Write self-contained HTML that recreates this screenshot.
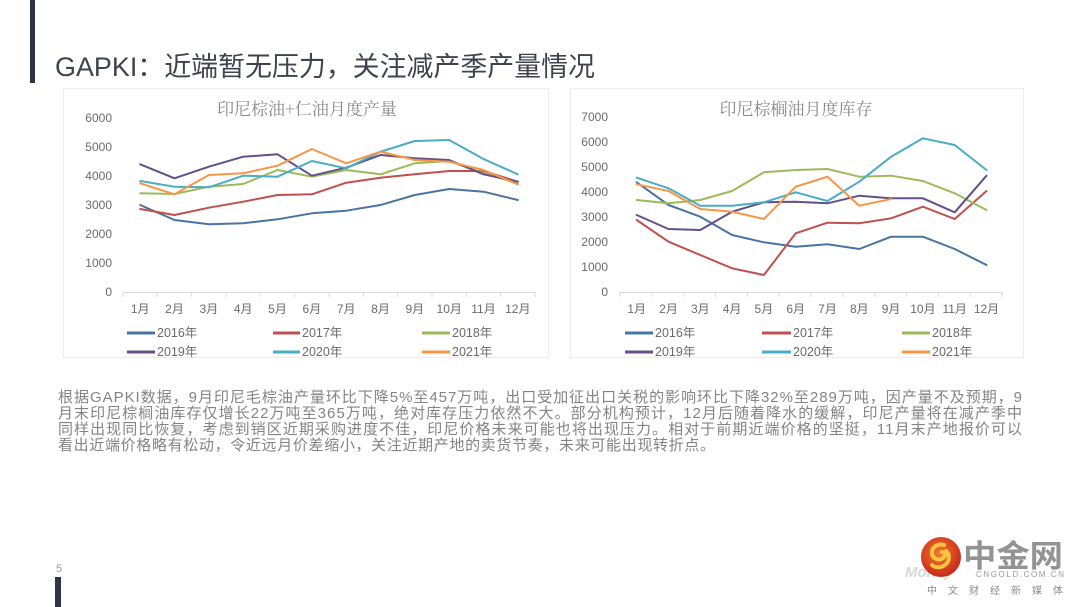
<!DOCTYPE html>
<html><head><meta charset="utf-8"><style>
html,body{margin:0;padding:0;background:#fff;}
svg{display:block;}
text{font-family:"Liberation Sans","Noto Sans CJK SC",sans-serif;}
.ax{font-size:12px;fill:#6b6b6b;}
.ttl{font-family:"Noto Serif CJK SC","Liberation Serif",serif;font-size:17px;fill:#8a8a8a;}
.lg{font-size:12.5px;fill:#6b6b6b;}
.s{fill:none;stroke-width:2;stroke-linejoin:round;stroke-linecap:round;}
.para{font-size:15px;fill:#848484;}
</style></head><body>
<svg width="1080" height="607" viewBox="0 0 1080 607" xmlns="http://www.w3.org/2000/svg">
<defs>
<radialGradient id="rg" cx="45%" cy="40%" r="60%">
<stop offset="0" stop-color="#f07a2a"/><stop offset="1" stop-color="#c9281c"/>
</radialGradient>
</defs>
<rect x="30" y="0" width="5" height="83" fill="#2f3447"/>
<rect x="55" y="577" width="6" height="30" fill="#2f3447"/>
<text x="56" y="572" font-size="11" fill="#9a9a9a">5</text>

<text x="55" y="76" font-size="27" fill="#3f4350" textLength="540" lengthAdjust="spacingAndGlyphs">GAPKI：近端暂无压力，关注减产季产量情况</text>

<rect x="63.5" y="88.5" width="485" height="269" fill="#fff" stroke="#ececec"/>
<rect x="570.5" y="88.5" width="453" height="269" fill="#fff" stroke="#ececec"/>

<text class="ttl" x="307" y="115" text-anchor="middle">印尼棕油+仁油月度产量</text>
<g class="ax" text-anchor="end">
<text x="112" y="122">6000</text>
<text x="112" y="151">5000</text>
<text x="112" y="180">4000</text>
<text x="112" y="209">3000</text>
<text x="112" y="238">2000</text>
<text x="112" y="267">1000</text>
<text x="112" y="296">0</text>
</g>
<g stroke="#d9d9d9" stroke-width="1">
<line x1="123" y1="292.5" x2="535" y2="292.5"/>
<path d="M123 292v5M157.3 292v5M191.7 292v5M226 292v5M260.3 292v5M294.7 292v5M329 292v5M363.3 292v5M397.7 292v5M432 292v5M466.3 292v5M500.7 292v5M535 292v5"/>
</g>
<g class="ax" text-anchor="middle">
<text x="140.2" y="313">1月</text><text x="174.5" y="313">2月</text><text x="208.9" y="313">3月</text>
<text x="243.2" y="313">4月</text><text x="277.5" y="313">5月</text><text x="311.9" y="313">6月</text>
<text x="346.2" y="313">7月</text><text x="380.5" y="313">8月</text><text x="414.8" y="313">9月</text>
<text x="449.2" y="313">10月</text><text x="483.5" y="313">11月</text><text x="517.8" y="313">12月</text>
</g>
<polyline class="s" stroke="#4a74a0" points="140.2,205 174.5,220 208.9,224.3 243.2,223.3 277.5,219.3 311.9,213.3 346.2,210.7 380.5,205 414.8,195 449.2,189 483.5,191.7 517.8,200"/>
<polyline class="s" stroke="#c0504d" points="140.2,209 174.5,215 208.9,207.7 243.2,201.7 277.5,195 311.9,194.3 346.2,182.7 380.5,177.7 414.8,174.3 449.2,171 483.5,171 517.8,181.7"/>
<polyline class="s" stroke="#9bbb59" points="140.2,193.3 174.5,194 208.9,186.7 243.2,184 277.5,170 311.9,176.7 346.2,170 380.5,174.3 414.8,163.3 449.2,161 483.5,173.3 517.8,183.3"/>
<polyline class="s" stroke="#63508a" points="140.2,164.3 174.5,178.3 208.9,166.7 243.2,156.7 277.5,154.3 311.9,175.7 346.2,167.7 380.5,155 414.8,158.3 449.2,160 483.5,174.3 517.8,181.7"/>
<polyline class="s" stroke="#4bacc6" points="140.2,181 174.5,186.7 208.9,187.3 243.2,175.7 277.5,176.7 311.9,161 346.2,168.3 380.5,151.7 414.8,141 449.2,140 483.5,159 517.8,174.3"/>
<polyline class="s" stroke="#f79646" points="140.2,183.3 174.5,194.3 208.9,175 243.2,173.3 277.5,165.7 311.9,149 346.2,163.3 380.5,151.7 414.8,160 449.2,161.7 483.5,170 517.8,184.3"/>
<g stroke-width="3">
<line x1="127" y1="333" x2="155" y2="333" stroke="#4a74a0"/>
<line x1="273" y1="333" x2="300" y2="333" stroke="#c0504d"/>
<line x1="422" y1="333" x2="450" y2="333" stroke="#9bbb59"/>
<line x1="127" y1="352" x2="155" y2="352" stroke="#63508a"/>
<line x1="273" y1="352" x2="300" y2="352" stroke="#4bacc6"/>
<line x1="422" y1="352" x2="450" y2="352" stroke="#f79646"/>
</g>
<g class="lg">
<text x="157" y="337">2016年</text><text x="302" y="337">2017年</text><text x="452" y="337">2018年</text>
<text x="157" y="356">2019年</text><text x="302" y="356">2020年</text><text x="452" y="356">2021年</text>
</g>

<text class="ttl" x="796" y="115" text-anchor="middle">印尼棕榈油月度库存</text>
<g class="ax" text-anchor="end">
<text x="608" y="121">7000</text>
<text x="608" y="146">6000</text>
<text x="608" y="171">5000</text>
<text x="608" y="196">4000</text>
<text x="608" y="221">3000</text>
<text x="608" y="246">2000</text>
<text x="608" y="271">1000</text>
<text x="608" y="296">0</text>
</g>
<g stroke="#d9d9d9" stroke-width="1">
<line x1="620" y1="292.5" x2="1002" y2="292.5"/>
<path d="M620 292v5M651.8 292v5M683.7 292v5M715.5 292v5M747.3 292v5M779.2 292v5M811 292v5M842.8 292v5M874.7 292v5M906.5 292v5M938.3 292v5M970.2 292v5M1002 292v5"/>
</g>
<g class="ax" text-anchor="middle">
<text x="636.7" y="313">1月</text><text x="668.5" y="313">2月</text><text x="700.3" y="313">3月</text>
<text x="732.1" y="313">4月</text><text x="763.9" y="313">5月</text><text x="795.7" y="313">6月</text>
<text x="827.5" y="313">7月</text><text x="859.3" y="313">8月</text><text x="891.1" y="313">9月</text>
<text x="922.9" y="313">10月</text><text x="954.7" y="313">11月</text><text x="986.5" y="313">12月</text>
</g>
<polyline class="s" stroke="#4a74a0" points="636.7,182.3 668.5,205 700.3,216.7 732.1,235 763.9,242.3 795.7,246.7 827.5,244.3 859.3,249 891.1,236.7 922.9,236.7 954.7,249 986.5,265"/>
<polyline class="s" stroke="#c0504d" points="636.7,220 668.5,241.7 700.3,255 732.1,268.3 763.9,275 795.7,233.3 827.5,222.7 859.3,223.3 891.1,218.3 922.9,206.7 954.7,219 986.5,191"/>
<polyline class="s" stroke="#9bbb59" points="636.7,200 668.5,203.3 700.3,200 732.1,191 763.9,172.3 795.7,170 827.5,169 859.3,176.7 891.1,175.7 922.9,181 954.7,193.3 986.5,210"/>
<polyline class="s" stroke="#63508a" points="636.7,215 668.5,229 700.3,230 732.1,211.7 763.9,202.3 795.7,201.7 827.5,203.3 859.3,195.7 891.1,198.3 922.9,198.3 954.7,212.3 986.5,175.7"/>
<polyline class="s" stroke="#4bacc6" points="636.7,177.7 668.5,188.3 700.3,205.7 732.1,205.7 763.9,202.3 795.7,192.3 827.5,201 859.3,181.7 891.1,156.7 922.9,138.3 954.7,145 986.5,170"/>
<polyline class="s" stroke="#f79646" points="636.7,184.3 668.5,191 700.3,209 732.1,211.7 763.9,219 795.7,186.7 827.5,176.7 859.3,205.7 891.1,199"/>
<g stroke-width="3">
<line x1="625" y1="333" x2="653" y2="333" stroke="#4a74a0"/>
<line x1="762" y1="333" x2="791" y2="333" stroke="#c0504d"/>
<line x1="902" y1="333" x2="930" y2="333" stroke="#9bbb59"/>
<line x1="625" y1="352" x2="653" y2="352" stroke="#63508a"/>
<line x1="762" y1="352" x2="791" y2="352" stroke="#4bacc6"/>
<line x1="902" y1="352" x2="930" y2="352" stroke="#f79646"/>
</g>
<g class="lg">
<text x="655" y="337">2016年</text><text x="793" y="337">2017年</text><text x="932" y="337">2018年</text>
<text x="655" y="356">2019年</text><text x="793" y="356">2020年</text><text x="932" y="356">2021年</text>
</g>

<g class="para">
<text x="58" y="402" textLength="964" lengthAdjust="spacing">根据GAPKI数据，9月印尼毛棕油产量环比下降5%至457万吨，出口受加征出口关税的影响环比下降32%至289万吨，因产量不及预期，9</text>
<text x="58" y="418" textLength="964" lengthAdjust="spacing">月末印尼棕榈油库存仅增长22万吨至365万吨，绝对库存压力依然不大。部分机构预计，12月后随着降水的缓解，印尼产量将在减产季中</text>
<text x="58" y="434" textLength="964" lengthAdjust="spacing">同样出现同比恢复，考虑到销区近期采购进度不佳，印尼价格未来可能也将出现压力。相对于前期近端价格的坚挺，11月末产地报价可以</text>
<text x="58" y="450" textLength="657" lengthAdjust="spacing">看出近端价格略有松动，令近远月价差缩小，关注近期产地的卖货节奏，未来可能出现转折点。</text>
</g>

<text x="905" y="577" font-size="15" font-style="italic" font-weight="bold" fill="#c8c8c8" opacity="0.7">Money</text>
<circle cx="941" cy="557" r="20" fill="url(#rg)"/>
<path d="M944 545c-7-2-13 3-12 9 1 5 7 7 11 4 3-2 2-6-1-6M946 551c4 3 4 10-1 14-4 3-10 3-13 0" fill="none" stroke="#f6c343" stroke-width="4" stroke-linecap="round"/>
<text x="963" y="567" font-size="31" font-weight="bold" fill="#939393" textLength="100" lengthAdjust="spacingAndGlyphs">中金网</text>
<text x="976" y="577" font-size="8" fill="#9a9a9a" textLength="88" lengthAdjust="spacing">CNGOLD.COM.CN</text>
<text x="927" y="594" font-size="10" fill="#8a8a8a" textLength="136" lengthAdjust="spacing">中文财经新媒体</text>
</svg>
</body></html>
